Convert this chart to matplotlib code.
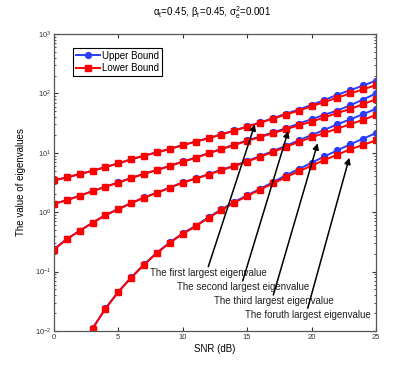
import matplotlib
matplotlib.use("Agg")
import matplotlib.pyplot as plt

plt.rcParams['font.family'] = ['Liberation Sans', 'DejaVu Sans']
plt.rcParams['mathtext.fontset'] = 'custom'
plt.rcParams['mathtext.rm'] = 'Liberation Sans'
plt.rcParams['mathtext.it'] = 'Liberation Sans:italic'

# SNR axis
snr = list(range(0, 26))
snr4 = list(range(3, 26))

# first largest eigenvalue
upper1 = [3.44, 3.87, 4.4, 5.0, 5.77, 6.66, 7.77, 9.0, 10.2, 11.7, 13.5, 15.5, 17.7,
          20.5, 23.8, 27.8, 32.4, 38.2, 45.5, 53.5, 64.0, 77.5, 95.0, 113.0, 136.0, 164.0]
lower1 = [3.42, 3.85, 4.38, 4.98, 5.74, 6.63, 7.73, 8.95, 10.15, 11.6, 13.4, 15.4, 17.6,
          20.3, 23.6, 27.5, 32.0, 37.5, 44.0, 51.2, 60.6, 71.5, 85.0, 100.0, 117.0, 138.0]
# second largest eigenvalue
upper2 = [1.39, 1.6, 1.9, 2.27, 2.69, 3.18, 3.77, 4.45, 5.15, 6.05, 7.15, 8.3, 9.9,
          11.6, 13.7, 16.2, 18.8, 22.0, 25.9, 31.0, 36.8, 43.8, 51.5, 63.0, 79.0, 100.0]
lower2 = [1.38, 1.59, 1.89, 2.26, 2.67, 3.16, 3.75, 4.42, 5.12, 6.0, 7.1, 8.2, 9.8,
          11.5, 13.5, 15.9, 18.4, 21.4, 24.9, 29.0, 33.4, 39.6, 46.8, 54.6, 66.0, 80.0]
# third largest eigenvalue
upper3 = [0.237, 0.354, 0.489, 0.667, 0.897, 1.13, 1.43, 1.77, 2.14, 2.6, 3.18, 3.7, 4.35,
          5.2, 6.07, 7.3, 8.8, 10.7, 13.1, 16.2, 19.9, 24.4, 30.2, 36.6, 44.8, 55.0]
lower3 = [0.235, 0.352, 0.486, 0.663, 0.892, 1.12, 1.42, 1.76, 2.12, 2.58, 3.15, 3.66, 4.3,
          5.12, 5.95, 7.12, 8.55, 10.3, 12.6, 15.2, 18.2, 21.6, 25.6, 30.2, 36.0, 43.3]
# fourth largest eigenvalue
upper4 = [0.0111, 0.024, 0.046, 0.080, 0.133, 0.209, 0.311, 0.44, 0.59, 0.82, 1.12, 1.49,
          1.92, 2.48, 3.2, 4.18, 5.33, 6.8, 8.7, 11.0, 13.9, 17.3, 21.5]
lower4 = [0.0110, 0.0237, 0.0455, 0.079, 0.131, 0.206, 0.306, 0.432, 0.58, 0.80, 1.09, 1.45,
          1.87, 2.4, 3.05, 3.87, 4.88, 6.07, 7.57, 9.3, 11.45, 13.6, 16.2]

labels = ['The first largest eigenvalue', 'The second largest eigenvalue',
          'The third largest eigenvalue', 'The foruth largest eigenvalue']
arrow_heads = [(15.6, 30.2), (18.19, 23.3), (20.47, 14.5), (22.93, 8.27)]
arrow_tails = [(11.98, 0.121), (14.65, 0.0695), (17.03, 0.0404), (19.70, 0.0241)]
text_pos = [(12.0, 0.0936), (14.65, 0.0544), (17.07, 0.0324), (19.68, 0.0186)]

blue = '#2b3bff'
red = '#ff0000'

fig = plt.figure(figsize=(4.15, 3.74), dpi=100)
ax = fig.add_axes([0.130, 0.115, 0.776, 0.794])

uppers = [upper1, upper2, upper3, upper4]
lowers = [lower1, lower2, lower3, lower4]
xs = [snr, snr, snr, snr4]
for i in range(4):
    ax.plot(xs[i], uppers[i], '-o', color=blue, lw=1.4, ms=4.2,
            label='Upper Bound' if i == 0 else None)
    ax.plot(xs[i], lowers[i], '-s', color=red, lw=1.4, ms=4.0,
            label='Lower Bound' if i == 0 else None)

# annotations
for lab, head, tail, tp in zip(labels, arrow_heads, arrow_tails, text_pos):
    ax.annotate('', xy=head, xytext=tail,
                arrowprops=dict(arrowstyle='-|>', color='black', lw=1.1,
                                mutation_scale=9, shrinkA=0, shrinkB=0))
    ax.text(tp[0], tp[1], lab, ha='center', va='center', fontsize=7.0,
            color='#222222')

ax.set_yscale('log')
ax.set_xlim(0, 25)
ax.set_ylim(1e-2, 1e3)
ax.set_xticks([0, 5, 10, 15, 20, 25])
ax.tick_params(which='both', direction='in', top=True, right=True,
               labelsize=5.5, colors='#333333', pad=2)
ax.tick_params(which='major', length=3)
ax.tick_params(which='minor', length=1.6)
for sp in ax.spines.values():
    sp.set_color('#555555')
    sp.set_linewidth(0.9)

ax.set_xlabel('SNR (dB)', fontsize=7, labelpad=2)
ax.set_ylabel('The value of eigenvalues', fontsize=7, labelpad=6)

leg = ax.legend(loc='upper left', bbox_to_anchor=(0.045, 0.97), fontsize=7,
                fancybox=False, edgecolor='black', framealpha=1,
                handlelength=2.4, borderpad=0.3, labelspacing=0.25,
                handletextpad=0.3)
leg.get_frame().set_linewidth(0.8)

fig.text(0.512, 0.965, 'α$_\\mathrm{t}$=0.45, β$_\\mathrm{r}$=0.45, σ$_\\mathrm{e}^\\mathrm{2}$=0.001',
         ha='center', va='center', fontsize=7)

fig.savefig('out.png', dpi=100)
